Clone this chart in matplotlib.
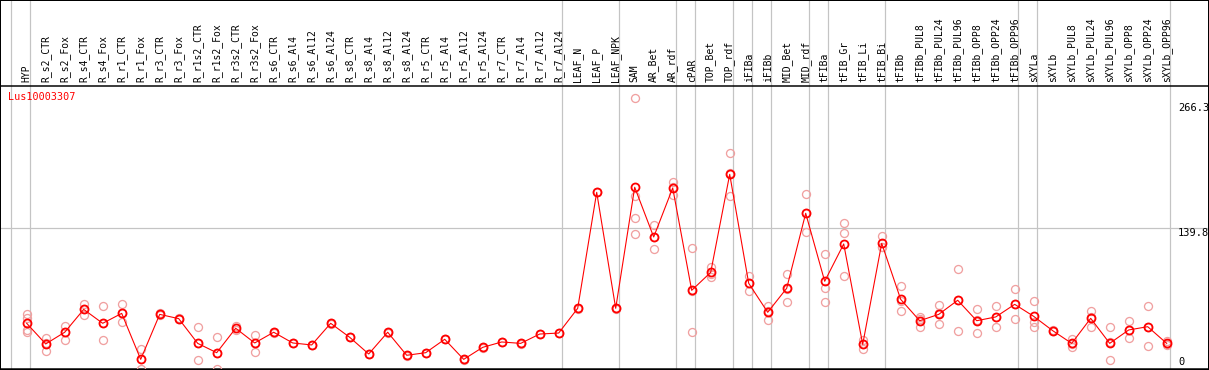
import matplotlib
matplotlib.use('Agg')
import matplotlib.pyplot as plt
from matplotlib.patches import Rectangle

plt.rcParams['font.family'] = 'DejaVu Sans Mono'

gene = 'Lus10003307'

samples = ['HYP', 'R_s2_CTR', 'R_s2_Fox', 'R_s4_CTR', 'R_s4_Fox', 'R_r1_CTR', 'R_r1_Fox',
           'R_r3_CTR', 'R_r3_Fox', 'R_r1s2_CTR', 'R_r1s2_Fox', 'R_r3s2_CTR', 'R_r3s2_Fox',
           'R_s6_CTR', 'R_s6_Al4', 'R_s6_Al12', 'R_s6_Al24', 'R_s8_CTR', 'R_s8_Al4',
           'R_s8_Al12', 'R_s8_Al24', 'R_r5_CTR', 'R_r5_Al4', 'R_r5_Al12', 'R_r5_Al24',
           'R_r7_CTR', 'R_r7_Al4', 'R_r7_Al12', 'R_r7_Al24', 'LEAF_N', 'LEAF_P', 'LEAF_NPK',
           'SAM', 'AR_Bet', 'AR_rdf', 'cPAR', 'TOP_Bet', 'TOP_rdf', 'iFIBa', 'iFIBb',
           'MID_Bet', 'MID_rdf', 'tFIBa', 'tFIB_Gr', 'tFIB_Li', 'tFIB_Bi', 'tFIBb',
           'tFIBb_PUL8', 'tFIBb_PUL24', 'tFIBb_PUL96', 'tFIBb_OPP8', 'tFIBb_OPP24',
           'tFIBb_OPP96', 'sXYLa', 'sXYLb', 'sXYLb_PUL8', 'sXYLb_PUL24', 'sXYLb_PUL96',
           'sXYLb_OPP8', 'sXYLb_OPP24', 'sXYLb_OPP96']

means = [44, 23.2, 35, 58, 44, 54, 7.7, 53, 48.7, 23.8, 14.4, 39, 24.2,
         35, 24.2, 22.2, 44, 29.9, 13.1, 35, 11.8, 14.4, 27.9, 7.7, 19.8,
         25.2, 23.8, 33.2, 34.2, 59.1, 175.9, 59.1,
         181, 130.9, 180.3, 77.2, 95.3, 194, 84.3, 55.1,
         79.3, 154.8, 86.3, 123.9, 22.8, 124.5, 68.1,
         46.6, 53, 67.2, 46.6, 50.4, 63.1,
         51, 36.6, 23.8, 49, 23.8, 37.3, 40.6, 23.8]

replicates = [[53, 49, 37, 35], [29, 16, 24], [41.6, 27.5, 35], [63.4, 52.7, 58], [61.4, 26.9, 44],
              [63.4, 45, 54], [17.8, -2.3, 7.7], [54, 52], [49.5, 48], [40, 6.7, 24],
              [29.9, -2.3, 14.4], [41, 37], [32.2, 14.8, 24.2],
              [35.5, 34.5], [24.5, 24], [22.5, 22], [44.5, 43.5], [30, 29.8], [13.5, 12.8],
              [35.3, 34.7], [12, 11.5], [14.6, 14.2], [28, 27.8], [8, 7.4], [20, 19.6],
              [25.4, 25], [24, 23.6], [33.4, 33], [34.4, 34], [59.3, 58.9], [176, 175.8], [59.3, 58.9],
              [270.6, 172, 150, 134], [143, 118.8, 131], [186.3, 173.2, 181], [119.8, 35, 77],
              [101, 90.9, 94], [215.2, 171.9, 195], [91.6, 76.2, 85], [61.7, 47.6, 56],
              [93.7, 65.2, 79], [173.9, 135.6, 155], [113.8, 79.9, 65.2], [144.7, 134.6, 91.5],
              [27.2, 17.8, 23.5], [131.9, 121.2, 120.5], [81.6, 56.4, 66.3],
              [50.7, 40.6, 48.5], [62.1, 43, 54], [98.4, 36, 67.2], [58.1, 33.9, 47.8],
              [61.1, 40, 50], [78.2, 48, 63.1],
              [66.2, 40.6, 45], [37, 36.2], [28.5, 19.8, 23.2], [56.4, 40.6, 50],
              [40, 6.7, 24.7], [46, 28.9, 37], [61.1, 20.8, 40], [26.5, 23.2, 21.7]]

# last column of each group of samples
group_ends = [-1, 0, 28, 31, 34, 35, 37, 38, 39, 41, 42, 45, 52, 53, 60]

yticks = [0, 139.8, 266.3]

W, H = 1209, 370
fig = plt.figure(figsize=(W / 100, H / 100), dpi=100)
ax = fig.add_axes([0, (H - 368.5) / H, 1, (368.5 - 85.5) / H])

px = 0.72  # one pixel in points
gray = '#c4c4c4'
pink = '#f0a0a0'

x = list(range(len(samples)))

for i, reps in enumerate(replicates):
    ax.plot([i] * len(reps), reps, 'o', ms=8 * px, mfc='none', mec=pink, mew=1.3 * px,
            zorder=3, clip_on=True)

ax.plot(x, means, '-', color='red', lw=1.1 * px, zorder=4)
ax.plot(x, means, 'o', ms=8 * px, mfc='none', mec='red', mew=1.8 * px, zorder=5)

# group separators, running through the header too
for g in group_ends:
    ax.axvline(g + 0.18, ymin=0, ymax=368.5 / 283, color=gray, lw=1.2 * px, zorder=1,
               clip_on=False)
ax.axhline(yticks[1], color=gray, lw=1.2 * px, zorder=1)

ax.set_xlim((0 - 26.7) / 19, (W - 26.7) / 19)
ax.set_ylim((367 - 368.5) / 0.993, (367 - 85.5) / 0.993)

ax.xaxis.tick_top()
ax.set_xticks(x)
ax.set_xticklabels(samples, rotation=90, fontsize=7)
ax.tick_params(axis='x', length=0, pad=2.2)
ax.set_yticks([])

for s in ax.spines.values():
    s.set_linewidth(1.5 * px)
    s.set_color('black')

xl = 60.6
ax.text(xl, yticks[2], '266.3', fontsize=7.5, va='top', ha='left', clip_on=False)
ax.text(xl, yticks[1], '139.8', fontsize=7.5, va='top', ha='left', clip_on=False)
ax.text(xl, yticks[0], '0', fontsize=7.5, va='bottom', ha='left', clip_on=False)

ax.text(8 / W, (368.5 - 97) / 283, gene, color='red', fontsize=7.3, va='center', ha='left',
        transform=ax.transAxes)

fig.patches.append(Rectangle((0, 0), 1, 1, transform=fig.transFigure, fill=False,
                             edgecolor='black', lw=2 * px))

fig.savefig('out.png', dpi=100)
